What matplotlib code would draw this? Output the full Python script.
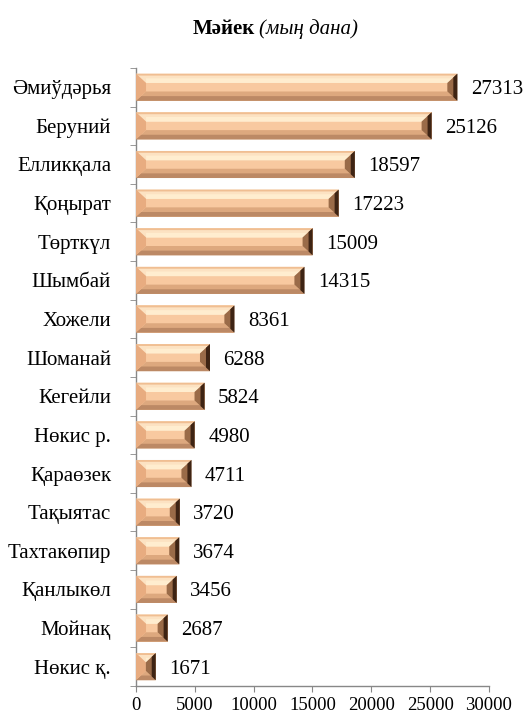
import numpy as np
import matplotlib.pyplot as plt
from matplotlib.patches import Polygon

plt.rcParams['font.family'] = ['Liberation Serif', 'DejaVu Serif']

districts = ['Әмиўдәрья', 'Беруний', 'Елликқала', 'Қоңырат', 'Төрткүл', 'Шымбай',
             'Хожели', 'Шоманай', 'Кегейли', 'Нөкис р.', 'Қараөзек', 'Тақыятас',
             'Тахтакөпир', 'Қанлыкөл', 'Мойнақ', 'Нөкис қ.']
values = [27313, 25126, 18597, 17223, 15009, 14315, 8361, 6288, 5824, 4980,
          4711, 3720, 3674, 3456, 2687, 1671]
xticks = [0, 5000, 10000, 15000, 20000, 25000, 30000]

fig = plt.figure(figsize=(5.28, 7.15), dpi=100)
ax = fig.add_axes([0.2576, 0.0406, 0.926 - 0.2576, 0.905 - 0.0406])

n = len(districts)
ypos = np.arange(n)[::-1]
bh = 0.7
bars = ax.barh(ypos, values, height=bh, color='#F8C9A0', edgecolor='none', zorder=2)

ax.set_xlim(0, 30000)
ax.set_ylim(-0.5, n - 0.5)

# bevel effect
bx_px = 10
bx = bx_px * 30000 / (fig.get_figwidth() * 100 * (0.926 - 0.2576))
by = 0.24
for y, v in zip(ypos, values):
    y0, y1 = y - bh / 2, y + bh / 2
    dx = min(bx, v / 2)
    # top bevel
    ax.add_patch(Polygon([(0, y1), (v, y1), (v - dx, y1 - by), (dx, y1 - by)],
                         closed=True, color='#FCE2C2', lw=0, zorder=3))
    ax.add_patch(Polygon([(0, y1), (v, y1), (v - dx * 0.2, y1 - by * 0.2), (dx * 0.2, y1 - by * 0.2)],
                         closed=True, color='#F0BE92', lw=0, zorder=3))
    ax.add_patch(Polygon([(dx, y1 - by * 0.5), (v - dx * 0.5, y1 - by * 0.5),
                          (v - dx, y1 - by), (dx, y1 - by)],
                         closed=True, color='#FFEDCF', lw=0, zorder=3))
    # bottom bevel
    ax.add_patch(Polygon([(0, y0), (v, y0), (v - dx, y0 + by), (dx, y0 + by)],
                         closed=True, color='#DDA87E', lw=0, zorder=3))
    ax.add_patch(Polygon([(0, y0), (v, y0), (v - dx * 0.5, y0 + by * 0.5), (dx * 0.5, y0 + by * 0.5)],
                         closed=True, color='#BC8965', lw=0, zorder=3))
    # left bevel
    ax.add_patch(Polygon([(0, y0), (0, y1), (dx, y1 - by), (dx, y0 + by)],
                         closed=True, color='#E8AC80', lw=0, zorder=4))
    # right bevel
    ax.add_patch(Polygon([(v, y0), (v, y1), (v - dx, y1 - by), (v - dx, y0 + by)],
                         closed=True, color='#9A6B48', lw=0, zorder=4))
    ax.add_patch(Polygon([(v, y0), (v, y1), (v - dx * 0.4, y1 - by * 0.4), (v - dx * 0.4, y0 + by * 0.4)],
                         closed=True, color='#3E2414', lw=0, zorder=4))
    ax.text(v + 1150, y, str(v), va='center_baseline', ha='left', fontsize=15, color='black')

ax.set_yticks(ypos)
ax.set_yticklabels(districts, fontsize=15)
ax.set_yticks(np.arange(-0.5, n, 1), minor=True)
ax.tick_params(axis='y', which='major', length=0, pad=18)
ax.tick_params(axis='y', which='minor', length=4, color='#888888', direction='out')
ax.set_xticks(xticks)
ax.set_xticklabels([str(t) for t in xticks], fontsize=13.5)
ax.tick_params(axis='x', length=4, color='#888888', direction='out', pad=4)

for s in ['top', 'right']:
    ax.spines[s].set_visible(False)
for s in ['left', 'bottom']:
    ax.spines[s].set_color('#888888')
    ax.spines[s].set_linewidth(1)

fig.text(0.483, 0.96, 'Мәйек', fontsize=15, fontweight='bold', ha='right', va='center')
fig.text(0.491, 0.96, '(мың дана)', fontsize=15, fontstyle='italic', ha='left', va='center')

fig.savefig('out.png', dpi=100)
